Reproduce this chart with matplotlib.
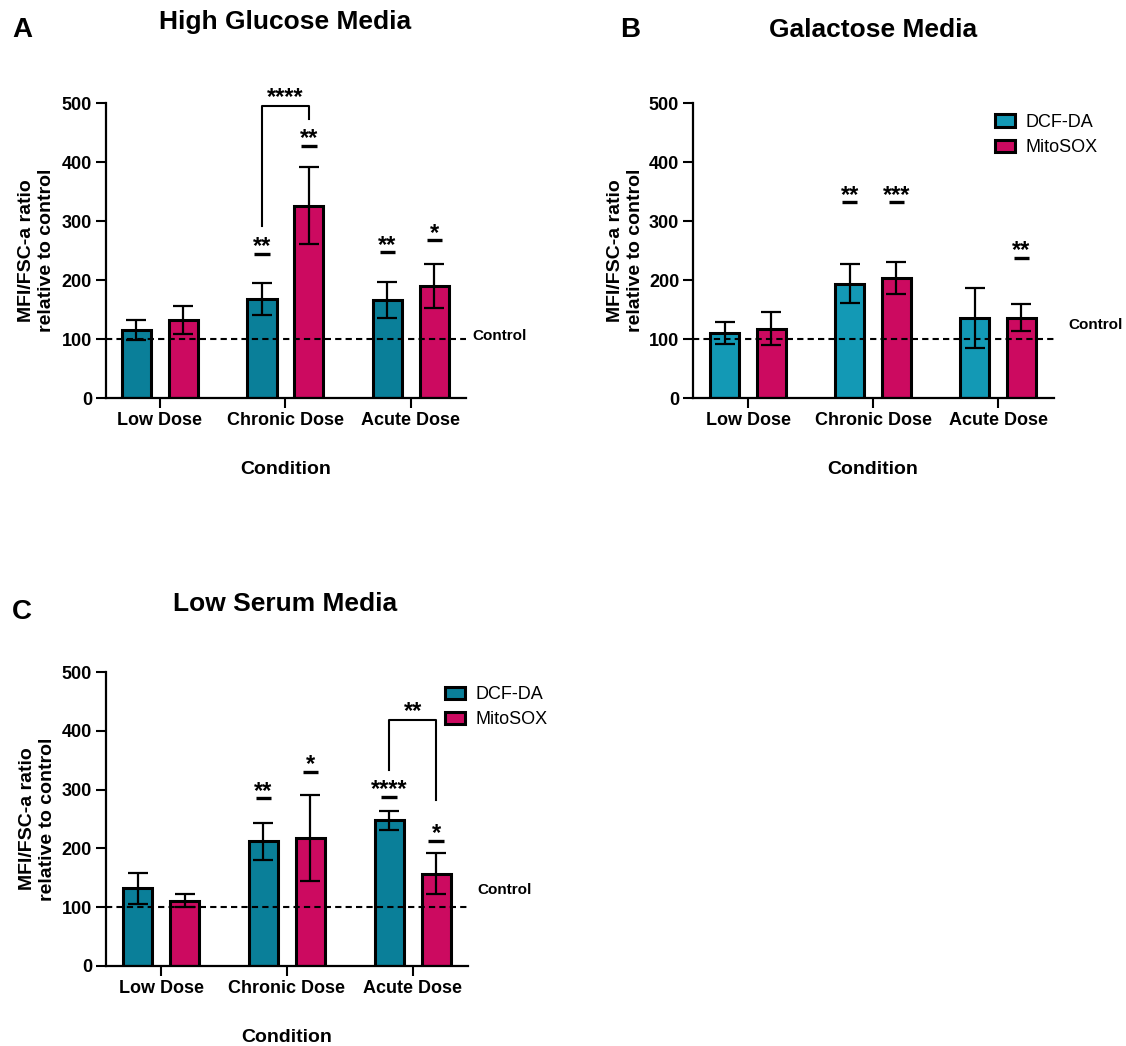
import matplotlib
matplotlib.use("Agg")
import matplotlib.pyplot as plt
import matplotlib.transforms as mtransforms
from matplotlib.patches import Patch

plt.rcParams['font.family'] = ['Liberation Sans', 'DejaVu Sans']

conditions = ['Low Dose', 'Chronic Dose', 'Acute Dose']
series = ['DCF-DA', 'MitoSOX']

# High glucose media
hg_dcf = [115, 168, 166]
hg_dcf_err = [17, 27, 30]
hg_mito = [132, 326, 190]
hg_mito_err = [24, 65, 37]
hg_sig = [(1, 0, 244, '**'), (1, 1, 427, '**'), (2, 0, 247, '**'), (2, 1, 267, '*')]
hg_bracket = (1, 292, 495, 473, '****')

# Galactose media
gal_dcf = [110, 194, 135]
gal_dcf_err = [18, 33, 51]
gal_mito = [117, 203, 136]
gal_mito_err = [28, 27, 23]
gal_sig = [(1, 0, 332, '**'), (1, 1, 332, '***'), (2, 1, 238, '**')]

# Low serum media
ls_dcf = [132, 212, 248]
ls_dcf_err = [27, 32, 16]
ls_mito = [111, 218, 157]
ls_mito_err = [11, 73, 35]
ls_sig = [(1, 0, 285, '**'), (1, 1, 330, '*'), (2, 0, 288, '****'), (2, 1, 213, '*')]
ls_bracket = (2, 333, 418, 283, '**')

pink = '#cc0a60'
teal_dark = '#0a7f99'
teal_light = '#1399b5'

W = 0.232
OFF = 0.187


def panel(ax, dcf, dcf_err, mito, mito_err, teal, sig, bracket, ctrl_x, ctrl_y,
          xlim, ylab_x):
    x = list(range(len(conditions)))
    xd = [i - OFF for i in x]
    xm = [i + OFF for i in x]
    ax.bar(xd, dcf, W, color=teal, edgecolor='black', linewidth=2.2, zorder=2, label=series[0])
    ax.bar(xm, mito, W, color=pink, edgecolor='black', linewidth=2.2, zorder=2, label=series[1])
    ax.errorbar(xd, dcf, yerr=dcf_err, fmt='none', ecolor='black', elinewidth=1.6,
                capsize=7, capthick=1.6, zorder=4)
    ax.errorbar(xm, mito, yerr=mito_err, fmt='none', ecolor='black', elinewidth=1.6,
                capsize=7, capthick=1.6, zorder=4)
    ax.axhline(100, color='black', lw=1.5, linestyle=(0, (3, 2)), zorder=3)
    trans = mtransforms.blended_transform_factory(ax.transAxes, ax.transData)
    ax.text(ctrl_x, ctrl_y, 'Control', transform=trans, fontsize=11, fontweight='bold',
            va='center', ha='left', clip_on=False)

    for g, s, y, lab in sig:
        xc = g - OFF if s == 0 else g + OFF
        ax.plot([xc - 0.062, xc + 0.062], [y, y], color='black', lw=2.4,
                solid_capstyle='butt', zorder=4)
        ax.text(xc, y + 1, lab, ha='center', va='baseline', fontsize=17,
                fontweight='bold', clip_on=False)
    if bracket is not None:
        g, yl, yt, yr, lab = bracket
        ax.plot([g - OFF, g - OFF, g + OFF, g + OFF], [yl, yt, yt, yr], color='black',
                lw=1.5, zorder=4, clip_on=False)
        ax.text(g, yt + 3, lab, ha='center', va='baseline', fontsize=17,
                fontweight='bold', clip_on=False)

    ax.set_ylim(0, 500)
    ax.set_xlim(*xlim)
    ax.set_yticks([0, 100, 200, 300, 400, 500])
    ax.set_xticks(x)
    ax.set_xticklabels(conditions)
    for sp in ['top', 'right']:
        ax.spines[sp].set_visible(False)
    for sp in ['left', 'bottom']:
        ax.spines[sp].set_linewidth(1.6)
    ax.tick_params(axis='both', width=1.5, length=7, labelsize=13, pad=3)
    for t in ax.get_xticklabels() + ax.get_yticklabels():
        t.set_fontweight('bold')
    ax.set_ylabel('MFI/FSC-a ratio\nrelative to control', fontsize=14, fontweight='bold')
    ax.yaxis.set_label_coords(ylab_x, 0.5)
    tb = mtransforms.blended_transform_factory(ax.transData, ax.transAxes)
    ax.text(1, -0.244, 'Condition', transform=tb, ha='center', va='center',
            fontsize=14, fontweight='bold')


fig = plt.figure(figsize=(11.26, 10.46), dpi=100)
axA = fig.add_axes([0.0941, 0.6195, 0.3197, 0.282])
axB = fig.add_axes([0.6155, 0.6195, 0.3206, 0.282])
axC = fig.add_axes([0.0941, 0.0765, 0.3215, 0.281])

panel(axA, hg_dcf, hg_dcf_err, hg_mito, hg_mito_err, teal_dark, hg_sig, hg_bracket,
      1.019, 105, (-0.43, 2.438), -0.142)
panel(axB, gal_dcf, gal_dcf_err, gal_mito, gal_mito_err, teal_light, gal_sig, None,
      1.039, 124, (-0.44, 2.448), -0.136)
panel(axC, ls_dcf, ls_dcf_err, ls_mito, ls_mito_err, teal_dark, ls_sig, ls_bracket,
      1.025, 130, (-0.44, 2.44), -0.138)

for ax, teal, pos in [(axB, teal_light, (0.8837, 0.891)), (axC, teal_dark, (0.3952, 0.344))]:
    handles = [Patch(facecolor=teal, edgecolor='black', linewidth=2.2),
               Patch(facecolor=pink, edgecolor='black', linewidth=2.2)]
    fig.legend(handles, series, loc='upper left', bbox_to_anchor=pos, frameon=False,
               fontsize=13, handlelength=1.1, handleheight=0.7, handletextpad=0.6,
               labelspacing=0.45, borderpad=0, borderaxespad=0)

fig.text(285 / 1126, 1 - 22 / 1046, 'High Glucose Media', ha='center', va='center',
         fontsize=19, fontweight='bold')
fig.text(873 / 1126, 1 - 30 / 1046, 'Galactose Media', ha='center', va='center',
         fontsize=19, fontweight='bold')
fig.text(285 / 1126, 1 - 604 / 1046, 'Low Serum Media', ha='center', va='center',
         fontsize=19, fontweight='bold')
fig.text(22 / 1126, 1 - 30 / 1046, 'A', ha='center', va='center', fontsize=20, fontweight='bold')
fig.text(630 / 1126, 1 - 30 / 1046, 'B', ha='center', va='center', fontsize=20, fontweight='bold')
fig.text(22 / 1126, 1 - 612 / 1046, 'C', ha='center', va='center', fontsize=20, fontweight='bold')

fig.savefig('out.png', dpi=100, facecolor='white')
